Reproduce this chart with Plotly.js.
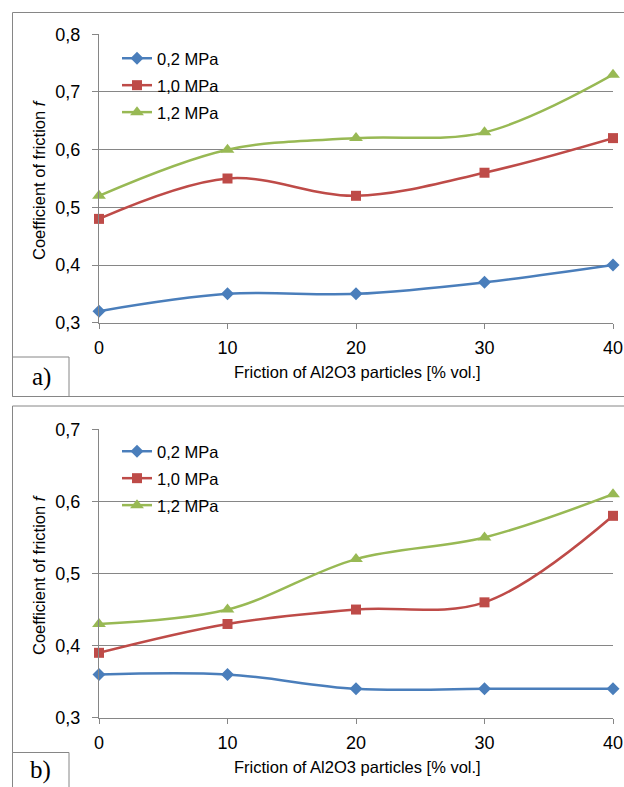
<!DOCTYPE html>
<html>
<head>
<meta charset="utf-8">
<script src="https://cdn.plot.ly/plotly-3.0.1.min.js"></script>
<style>html,body{margin:0;padding:0;background:#fff}#chart{width:624px;height:787px}</style>
</head>
<body>
<div id="chart"></div>
<script>
// ---- data ----
const fractions = [0, 10, 20, 30, 40];
const seriesNames = ['0,2 MPa', '1,0 MPa', '1,2 MPa'];
// panel a)
const a_02 = [0.32, 0.35, 0.35, 0.37, 0.40];
const a_10 = [0.48, 0.55, 0.52, 0.56, 0.62];
const a_12 = [0.52, 0.60, 0.62, 0.63, 0.73];
// panel b)
const b_02 = [0.36, 0.36, 0.34, 0.34, 0.34];
const b_10 = [0.39, 0.43, 0.45, 0.46, 0.58];
const b_12 = [0.43, 0.45, 0.52, 0.55, 0.61];
const yTickA = [0.3, 0.4, 0.5, 0.6, 0.7, 0.8];
const yTickB = [0.3, 0.4, 0.5, 0.6, 0.7];

// ---- styles ----
const colors = ['#4A7EBB', '#BE4B48', '#98B954'];
const symbols = ['diamond', 'square', 'triangle-up'];
const msizes = [10, 10, 12];
const W = 624, H = 787;
const px = v => v / W;
const py = v => 1 - v / H;
const FONT = 'Liberation Sans, Arial, sans-serif';
const SERIF = 'Liberation Serif, Times New Roman, serif';

function mk(yv, i, xa, ya, leg) {
  return {
    x: fractions, y: yv, name: seriesNames[i], type: 'scatter', mode: 'lines+markers',
    xaxis: xa, yaxis: ya, legend: leg, legendgroup: leg + i,
    line: {color: colors[i], width: 2.5, shape: 'spline', smoothing: 1},
    marker: {color: colors[i], symbol: symbols[i], size: msizes[i]},
    cliponaxis: false
  };
}
const data = [
  mk(a_02, 0, 'x', 'y', 'legend'), mk(a_10, 1, 'x', 'y', 'legend'), mk(a_12, 2, 'x', 'y', 'legend'),
  mk(b_02, 0, 'x2', 'y2', 'legend2'), mk(b_10, 1, 'x2', 'y2', 'legend2'), mk(b_12, 2, 'x2', 'y2', 'legend2')
];

const gray = '#868686';
function xax(anchor) {
  return {domain: [px(99), px(613)], range: [0, 40], anchor: anchor, tickvals: fractions,
    showgrid: false, zeroline: false, showline: true, linecolor: gray, linewidth: 1,
    ticks: 'outside', ticklen: 5, tickcolor: gray, ticklabelstandoff: 4,
    tickfont: {family: FONT, size: 18, color: '#000'}};
}
function yax(anchor, dom, rng, tv) {
  return {domain: dom, range: rng, anchor: anchor, tickvals: tv, tickformat: '.1f',
    showgrid: true, gridcolor: gray, gridwidth: 1, zeroline: false, showline: true,
    linecolor: gray, linewidth: 1, ticks: 'outside', ticklen: 6, tickcolor: gray,
    ticklabelstandoff: 8,
    tickfont: {family: FONT, size: 18, color: '#000'}};
}
function leg(yTop) {
  return {x: px(117), y: py(yTop), xanchor: 'left', yanchor: 'top', bgcolor: 'rgba(0,0,0,0)',
    font: {family: FONT, size: 16.5, color: '#000'}, tracegroupgap: 2.5, traceorder: 'grouped'};
}
function ann(text, x, y, size, extra) {
  return Object.assign({text: text, xref: 'paper', yref: 'paper', x: px(x), y: py(y),
    xanchor: 'center', yanchor: 'middle', showarrow: false,
    font: {family: FONT, size: size, color: '#000'}}, extra || {});
}

const layout = {
  width: W, height: H, margin: {l: 0, r: 0, t: 0, b: 0},
  paper_bgcolor: '#fff', plot_bgcolor: 'rgba(0,0,0,0)',
  separators: ', ', showlegend: true,
  font: {family: FONT, color: '#000'},
  xaxis: xax('y'),
  yaxis: yax('x', [py(322.7), py(34.3)], [0.3, 0.8], yTickA),
  xaxis2: xax('y2'),
  yaxis2: yax('x2', [py(717.7), py(429.3)], [0.3, 0.7], yTickB),
  legend: leg(41),
  legend2: leg(434),
  shapes: [
    {type: 'rect', xref: 'paper', yref: 'paper', x0: px(12.5), x1: px(640), y0: py(396.5), y1: py(12.5), line: {color: gray, width: 1}},
    {type: 'rect', xref: 'paper', yref: 'paper', x0: px(12.5), x1: px(640), y0: py(800), y1: py(406), line: {color: gray, width: 1}},
    {type: 'rect', xref: 'paper', yref: 'paper', x0: px(12.5), x1: px(69), y0: py(396.5), y1: py(357), line: {color: gray, width: 1}, fillcolor: '#fff'},
    {type: 'rect', xref: 'paper', yref: 'paper', x0: px(12.5), x1: px(69), y0: py(800), y1: py(752.5), line: {color: gray, width: 1}, fillcolor: '#fff'}
  ],
  annotations: [
    ann('Friction of Al2O3 particles [% vol.]', 357, 372, 16.5),
    ann('Friction of Al2O3 particles [% vol.]', 357, 767, 16.5),
    ann('Coefficient of friction <i>f</i>', 39, 180, 16.5, {textangle: -90}),
    ann('Coefficient of friction <i>f</i>', 39, 575, 16.5, {textangle: -90}),
    ann('a)', 41, 377, 25, {font: {family: SERIF, size: 25, color: '#000'}}),
    ann('b)', 40, 770, 25, {font: {family: SERIF, size: 25, color: '#000'}})
  ]
};

Plotly.newPlot('chart', data, layout, {displayModeBar: false, staticPlot: true});
</script>
</body>
</html>
